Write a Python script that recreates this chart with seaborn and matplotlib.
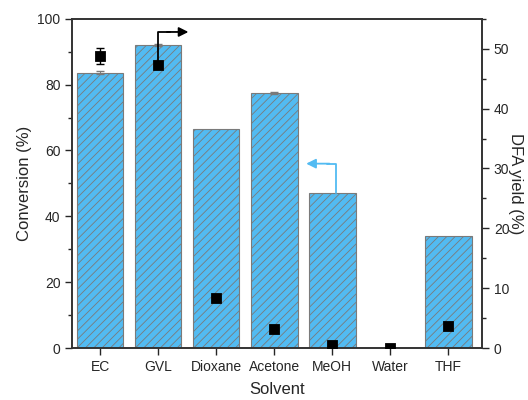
import matplotlib
matplotlib.use("Agg")
import matplotlib.pyplot as plt
import seaborn as sns
import pandas as pd
import numpy as np
from matplotlib.ticker import MultipleLocator

solvents = ["EC", "GVL", "Dioxane", "Acetone", "MeOH", "Water", "THF"]
conversion = [83.6, 92.0, 66.5, 77.5, 47.0, 0.0, 34.0]
conversion_err = [0.4, 0.4, 0.0, 0.3, 0.0, 0.0, 0.0]
dfa_yield = [48.8, 47.2, 8.4, 3.1, 0.5, 0.0, 3.6]
dfa_err = [1.3, 0.0, 0.0, 0.0, 0.0, 0.0, 0.0]

sns.set_style("ticks")
plt.rcParams["font.family"] = ["Liberation Sans", "DejaVu Sans"]
plt.rcParams["hatch.color"] = "#2f86c0"
plt.rcParams["hatch.linewidth"] = 0.6

df = pd.DataFrame({"Solvent": solvents, "Conversion": conversion, "DFA": dfa_yield})
xpos = np.arange(len(solvents))

fig, ax = plt.subplots(figsize=(5.28, 4.0), dpi=100)
fig.subplots_adjust(left=0.137, right=0.913, top=0.953, bottom=0.13)

sns.barplot(data=df, x="Solvent", y="Conversion", ax=ax, color="#52BBF2",
            saturation=1, width=0.8, edgecolor="#7a7a7a", linewidth=0.8, errorbar=None)
for p in ax.patches:
    p.set_hatch("////")
ce = np.array(conversion_err)
m = ce > 0
ax.errorbar(xpos[m], np.array(conversion)[m], yerr=ce[m], fmt="none",
            ecolor="#7a7a7a", elinewidth=0.8, capsize=3)

ax.set_ylim(0, 100)
ax.set_xlim(-0.48, 6.58)
ax.yaxis.set_major_locator(MultipleLocator(20))
ax.yaxis.set_minor_locator(MultipleLocator(10))
ax.set_ylabel("Conversion (%)", fontsize=12)
ax.set_xlabel("Solvent", fontsize=12, labelpad=6)
ax.tick_params(axis="both", labelsize=10, direction="out", length=5, width=1)
ax.tick_params(axis="y", which="minor", length=3, width=1)
for s in ax.spines.values():
    s.set_linewidth(1.2)
    s.set_color("#333333")

ax2 = ax.twinx()
sns.scatterplot(x=xpos, y=dfa_yield, ax=ax2, marker="s", s=55,
                color="black", edgecolor="black", zorder=5)
de = np.array(dfa_err)
m2 = de > 0
ax2.errorbar(xpos[m2], np.array(dfa_yield)[m2], yerr=de[m2], fmt="none",
             ecolor="black", elinewidth=1, capsize=3)
ax2.set_ylim(0, 55)
ax2.yaxis.set_major_locator(MultipleLocator(10))
ax2.yaxis.set_minor_locator(MultipleLocator(5))
ax2.set_ylabel("DFA yield (%)", fontsize=12, rotation=270, labelpad=10)
ax2.tick_params(axis="y", labelsize=10, direction="out", length=5, width=1)
ax2.tick_params(axis="y", which="minor", length=3, width=1)
for s in ax2.spines.values():
    s.set_linewidth(1.2)
    s.set_color("#333333")

# arrows indicating which axis each series belongs to
ax2.plot([1.0, 1.0, 1.2], [47.2, 52.8, 52.8], color="black", lw=1.3, zorder=6)
ax2.annotate("", xy=(1.52, 52.8), xytext=(1.15, 52.8),
             arrowprops=dict(arrowstyle="-|>", color="black", lw=1.3,
                             shrinkA=0, shrinkB=0, mutation_scale=14))
ax.plot([4.07, 4.07, 3.9], [47.0, 56.0, 56.0], color="#52BBF2", lw=1.3, zorder=6)
ax.annotate("", xy=(3.55, 56.0), xytext=(3.95, 56.0),
            arrowprops=dict(arrowstyle="-|>", color="#52BBF2", lw=1.3,
                            shrinkA=0, shrinkB=0, mutation_scale=14))

fig.savefig("out.png", dpi=100)
